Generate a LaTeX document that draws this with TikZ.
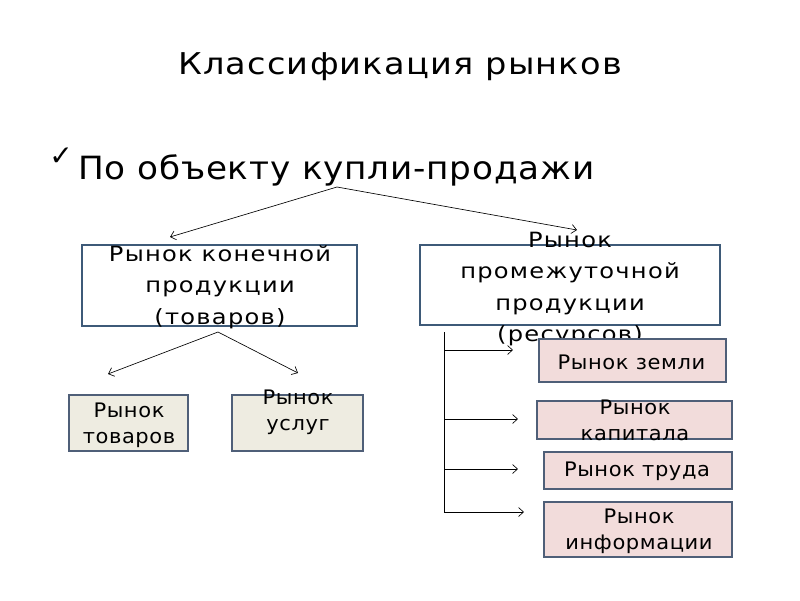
\documentclass[tikz,border=0pt]{standalone}
\usepackage{fontspec}
\setmainfont{DejaVu Sans}
\usetikzlibrary{arrows.meta}
\definecolor{bigborder}{HTML}{3E5A78}
\definecolor{smborder}{HTML}{4F5F78}
\definecolor{pinkfill}{HTML}{F2DCDB}
\definecolor{beigefill}{HTML}{EEECE1}
\tikzset{
  bigbox/.style={draw=bigborder, line width=1.2pt, fill=white, inner sep=0pt},
  smallbox/.style={draw=smborder, line width=2pt, inner sep=0pt},
  pinkbox/.style={smallbox, fill=pinkfill},
  beigebox/.style={smallbox, fill=beigefill},
  bigtxt/.style={align=center, inner sep=0pt, font=\fontsize{21}{31.5}\selectfont\addfontfeatures{FakeStretch=1.15,LetterSpace=6}},
  smtxt/.style={align=center, inner sep=0pt, font=\fontsize{20}{26}\selectfont\addfontfeatures{FakeStretch=1.05,LetterSpace=3}},
  arr/.style={-{Straight Barb[length=5pt,width=9pt]}, line width=0.65pt},
  plain/.style={line width=0.8pt}
}
\begin{document}
\begin{tikzpicture}[x=1pt,y=-1pt]
\useasboundingbox[fill=white] (0,0) rectangle (800,600);
% title and bullet
\node[inner sep=0pt, font=\fontsize{30}{36}\selectfont\addfontfeatures{FakeStretch=1.12,LetterSpace=4}] (title) at (400,67) {Классификация рынков};
\node[inner sep=0pt, font=\fontsize{28}{32}\selectfont] (check) at (61,157) {✓};
\node[inner sep=0pt, anchor=west, font=\fontsize{32}{38}\selectfont\addfontfeatures{FakeStretch=1.07,LetterSpace=2.5}] (bullet) at (78,170) {По объекту купли-продажи};
% big boxes
\node[bigbox, minimum width=275pt, minimum height=81pt] (fin) at (219.5,285.5) {};
\node[bigtxt] (fintxt) at (220,287) {Рынок конечной\\продукции\\(товаров)};
\node[bigbox, minimum width=300pt, minimum height=80pt] (mid) at (570,285) {};
\node[bigtxt] (midtxt) at (570,289) {Рынок\\промежуточной\\продукции\\(ресурсов)};
% small left boxes
\node[beigebox, minimum width=119pt, minimum height=56pt] (gds) at (128.5,423) {};
\node[smtxt] (gdstxt) at (129,425) {Рынок\\товаров};
\node[beigebox, minimum width=131pt, minimum height=56pt] (srv) at (297.5,423) {};
\node[smtxt] (srvtxt) at (298,412.5) {Рынок\\услуг};
% right small boxes
\node[pinkbox, minimum width=187pt, minimum height=43pt] (land) at (632.5,360.5) {};
\node[smtxt] (landtxt) at (631.5,362) {Рынок земли};
\node[pinkbox, minimum width=195pt, minimum height=38pt] (cap) at (634.5,420) {};
\node[smtxt] (captxt) at (635,420.5) {Рынок\\капитала};
\node[pinkbox, minimum width=188pt, minimum height=37pt] (lab) at (638,470.5) {};
\node[smtxt] (labtxt) at (637,471) {Рынок труда};
\node[pinkbox, minimum width=188pt, minimum height=55pt] (info) at (638,529.5) {};
\node[smtxt] (infotxt) at (639,531) {Рынок\\информации};
% connector coordinates
\coordinate (p0) at (337,187);
\coordinate (t1) at (170,237);
\coordinate (t2) at (577,230);
\coordinate (p1) at (218,332);
\coordinate (t3) at (108,374);
\coordinate (t4) at (298,373);
\coordinate (v0) at (444,332);
\coordinate (v1) at (444,350);
\coordinate (v2) at (444,419);
\coordinate (v3) at (444,469);
\coordinate (v4) at (444,512);
\coordinate (h1) at (513,350);
\coordinate (h2) at (518,419);
\coordinate (h3) at (518,469);
\coordinate (h4) at (524,512);
\draw[arr] (p0) -- (t1);
\draw[arr] (p0) -- (t2);
\draw[arr] (p1) -- (t3);
\draw[arr] (p1) -- (t4);
\draw[plain] (v0) -- (v4);
\draw[arr] (v1) -- (h1);
\draw[arr] (v2) -- (h2);
\draw[arr] (v3) -- (h3);
\draw[arr] (v4) -- (h4);
\end{tikzpicture}
\end{document}
